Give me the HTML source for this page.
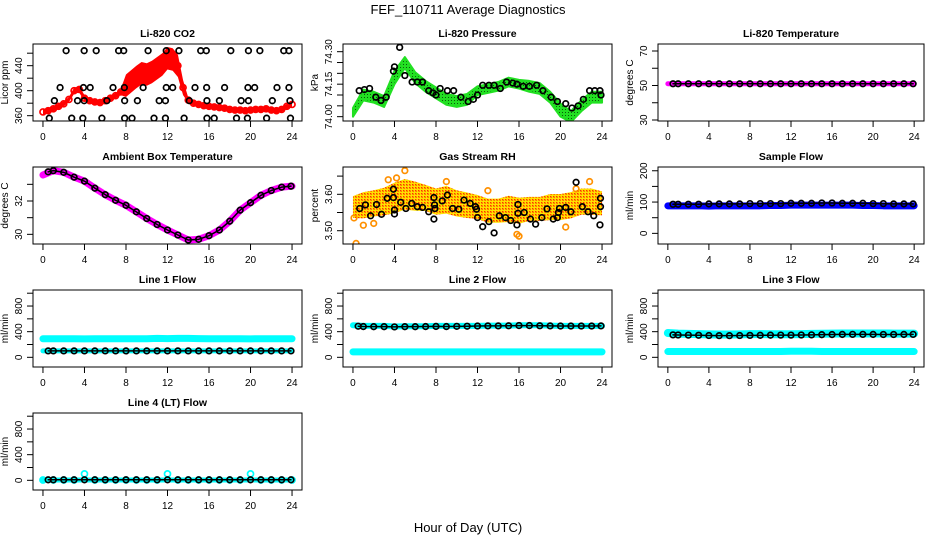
<!DOCTYPE html>
<html><head><meta charset="utf-8"><style>
html,body{margin:0;padding:0;background:#fff;}
svg{display:block;font-family:"Liberation Sans",Arial,sans-serif;}
</style></head><body>
<svg id="chart" width="936" height="540" viewBox="0 0 936 540" xmlns="http://www.w3.org/2000/svg">
<defs>
<pattern id="greendots" width="3" height="3" patternUnits="userSpaceOnUse"><rect width="3" height="3" fill="#22e022"/><rect x="1" y="1" width="1" height="1" fill="#0a5a0a"/></pattern>
<pattern id="orangedots" width="3" height="3" patternUnits="userSpaceOnUse"><rect width="3" height="3" fill="#ffe000"/><rect x="1" y="1" width="1.4" height="1.4" fill="#ff3000"/><rect x="2.2" y="2.2" width="0.8" height="0.8" fill="#ff5000"/></pattern>
</defs>
<text x="468" y="14" text-anchor="middle" font-size="13">FEF_110711  Average Diagnostics</text>
<text x="468" y="532" text-anchor="middle" font-size="13">Hour of Day (UTC)</text>
</svg>
<script>
// ---- data ----
const hourly = [0,1,2,3,4,5,6,7,8,9,10,11,12,13,14,15,16,17,18,19,20,21,22,23,24];
const blackHours = [0.5,1,2,3,4,5,6,7,8,9,10,11,12,13,14,15,16,17,18,19,20,21,22,23,23.9];
const halfHours = [0,0.5,1,1.5,2,2.5,3,3.5,4,4.5,5,5.5,6,6.5,7,7.5,8,8.5,9,9.5,10,10.5,11,11.5,12,12.5,13,13.5,14,14.5,15,15.5,16,16.5,17,17.5,18,18.5,19,19.5,20,20.5,21,21.5,22,22.5,23,23.5,24];

const co2Mid = [366,368,371,375,379,386,400,402,388,384,382,381,384,388,392,398,408,415,422,428,426,430,436,442,452,450,440,405,385,380,378,376,375,374,373,372,370,369,369,368,369,370,370,371,369,368,370,375,378];
const co2Spread = [4,4,4,4,4,4,5,5,5,4,4,4,4,4,4,5,18,18,18,18,18,18,18,18,18,18,18,12,4,4,4,4,4,4,4,4,4,4,4,4,4,4,4,4,4,4,4,4,4];
const co2BlackHours = [2.23,3.97,5.13,7.29,7.78,10.13,11.88,13.1,15.2,15.74,18.1,19.8,20.9,23.2,23.7, 1.65,3.9,4.55,6.75,7.84,9.65,11.88,12.5,14.65,15.77,17.5,19.75,20.4,22.55,23.7, 1.1,3.33,3.97,6.16,7.87,9.1,11.2,11.8,14.1,15.8,17.0,19.1,19.8,22.1,23.8, 0.61,2.77,3.84,5.68,7.87,8.58,10.7,11.8,13.6,15.8,16.5,18.65,19.7,21.55,23.85];
const co2BlackVals = [464,464,464,464,464,464,464,464,464,464,464,464,464,464,464, 405,405,405,405,405,405,405,405,405,405,405,405,405,405,405, 384,384,384,384,384,384,384,384,384,384,384,384,384,384,384, 356,356,356,356,356,356,356,356,356,356,356,356,356,356,356];

const presMid = [74.02,74.10,74.09,74.07,74.18,74.25,74.18,74.14,74.11,74.08,74.07,74.08,74.12,74.13,74.14,74.16,74.15,74.14,74.13,74.09,74.03,74.00,74.05,74.09,74.09];
const presSpread = [0.02,0.025,0.025,0.025,0.03,0.025,0.025,0.025,0.025,0.025,0.025,0.025,0.02,0.02,0.02,0.02,0.02,0.025,0.025,0.025,0.03,0.025,0.025,0.025,0.025];
const presBlackHours = [0.6,1.1,1.6,2.2,2.7,3.2,3.9,4.0,4.5,5.0,5.7,6.2,6.7,7.3,7.7,8.0,8.4,9.1,9.7,10.4,11.1,11.6,12.0,12.5,13.1,13.6,14.2,14.8,15.4,15.8,16.4,17.0,17.7,18.3,19.1,19.7,20.5,21.1,21.7,22.2,22.8,23.3,23.8,23.9];
const presBlackVals = [74.12,74.125,74.13,74.09,74.075,74.09,74.21,74.23,74.32,74.19,74.16,74.16,74.16,74.12,74.11,74.10,74.13,74.12,74.12,74.09,74.07,74.08,74.10,74.145,74.145,74.145,74.13,74.16,74.155,74.15,74.14,74.14,74.145,74.12,74.09,74.07,74.06,74.04,74.05,74.08,74.12,74.12,74.12,74.10];

const tempMagenta = [51,51,51,51,51,51,51,51,51,51,51,51,51,51,51,51,51,51,51,51,51,51,51,51,51];
const tempBlack = [51,51,51,51,51,51,51,51,51,51,51,51,51,51,51,51,51,51,51,51,51,51,51,51,51];

const ambMagenta = [33.56,33.82,33.72,33.43,33.19,32.77,32.38,32.04,31.74,31.35,30.95,30.59,30.26,29.96,29.66,29.70,29.92,30.26,30.79,31.45,31.90,32.34,32.63,32.83,32.89];
const ambBlack = [33.75,33.82,33.72,33.43,33.19,32.77,32.38,32.04,31.74,31.35,30.95,30.59,30.26,29.96,29.66,29.70,29.92,30.26,30.79,31.45,31.90,32.34,32.63,32.83,32.89];

const rhMid = [3.565,3.57,3.575,3.58,3.59,3.60,3.595,3.59,3.58,3.585,3.575,3.57,3.565,3.555,3.555,3.56,3.555,3.56,3.56,3.565,3.565,3.57,3.58,3.58,3.575];
const rhSpread = [0.03,0.036,0.036,0.038,0.042,0.042,0.04,0.036,0.036,0.038,0.036,0.035,0.033,0.033,0.033,0.036,0.036,0.033,0.033,0.036,0.036,0.036,0.036,0.036,0.033];
const rhBlackHours = [0.65,1.2,1.7,2.27,2.75,3.3,3.9,3.9,4.0,4.0,4.6,5.1,5.66,6.2,6.7,7.3,7.8,7.86,7.9,7.8,8.6,9.1,9.6,10.2,10.7,11.3,11.8,11.9,12.0,12.5,13.1,13.6,14.1,14.7,15.2,15.8,15.9,15.9,16.5,17.1,17.6,18.2,18.7,19.3,19.7,19.8,19.9,20.5,21.0,21.5,22.1,22.65,23.2,23.8,23.85,23.85];
const rhBlackVals = [3.561,3.571,3.541,3.572,3.545,3.589,3.614,3.591,3.557,3.546,3.578,3.561,3.575,3.566,3.564,3.552,3.591,3.571,3.561,3.532,3.582,3.598,3.561,3.559,3.584,3.575,3.566,3.559,3.536,3.511,3.525,3.494,3.541,3.536,3.528,3.516,3.548,3.572,3.550,3.532,3.518,3.536,3.560,3.532,3.536,3.550,3.561,3.564,3.552,3.633,3.566,3.552,3.541,3.516,3.566,3.589];
const rhOutlierHours = [0.1,0.3,1.0,2.0,5.0,4.2,9.0,13.0,15.8,20.5,21.5,22.8,16.0,3.4];
const rhOutlierVals = [3.535,3.465,3.515,3.52,3.665,3.645,3.635,3.61,3.49,3.51,3.615,3.635,3.485,3.64];

const sampleBlue = [88,88,88,88,87,88,88,88,88,88,89,89,90,90,90,90,90,90,90,89,89,88,88,88,88];
const sampleBlack = [93,93,93,93,94,94,94,94,95,95,95,95,96,96,96,97,97,96,96,96,95,95,94,94,94];

const line1Cyan = [290,290,290,290,288,290,290,290,290,290,290,295,292,295,295,292,290,290,290,290,288,290,290,290,290];
const line1Black = [100,100,100,100,100,100,100,100,100,100,100,100,100,100,100,100,100,100,100,100,100,100,100,100,100];
const line2CyanLow = [85,85,85,85,85,85,85,85,85,85,85,85,85,85,85,85,85,85,85,85,85,85,85,85,85];
const line2CyanHigh = [500,490,490,490,480,485,485,485,490,490,490,490,490,495,495,495,500,500,500,495,490,490,490,490,490];
const line2Black = [485,480,478,478,475,478,478,480,482,480,483,485,488,490,490,492,495,495,492,490,488,488,488,488,490];
const line3CyanLow = [90,90,90,90,90,90,90,90,90,90,90,90,95,95,95,90,90,90,90,90,90,90,90,90,90];
const line3CyanHigh = [380,370,365,362,358,355,355,358,362,362,360,360,360,362,365,368,370,372,372,372,372,372,370,370,370];
const line3Black = [350,348,346,344,340,338,338,340,342,343,345,346,346,348,350,353,355,357,358,358,357,356,356,357,358];
const line4Cyan = [5,5,5,5,100,5,5,5,5,5,5,5,100,5,5,5,5,5,5,5,100,5,5,5,5];
const line4Black = [8,8,8,8,8,8,8,8,8,8,8,8,8,8,8,8,8,8,8,8,8,8,8,8,8];

const xTicks = [0,4,8,12,16,20,24];
const co2Ticks = [360,380,400,420,440,460];
const co2Labels = ["360","","400","","440",""];
const presTicks = [74.00,74.05,74.10,74.15,74.20,74.25,74.30];
const presLabels = ["74.00","","","74.15","","","74.30"];
const tempTicks = [30,40,50,60,70];
const tempLabels = ["30","","50","","70"];
const ambTicks = [30,31,32,33];
const ambLabels = ["30","","32",""];
const rhTicks = [3.50,3.55,3.60,3.65];
const rhLabels = ["3.50","","3.60",""];
const sampTicks = [0,50,100,150,200];
const sampLabels = ["0","","100","","200"];
const flowTicks = [0,200,400,600,800,1000];
const flowLabels = ["0","","400","","800",""];

// ---- drawing ----
const NS = "http://www.w3.org/2000/svg";
const svg = document.getElementById('chart');
const colL = [33,343,658], colR = [302,612,924];
const rowT = [44,167,290,413];
const BOXH = 77;
const XMIN = -0.96, XMAX = 24.96;

function el(tag, attrs, parent){
  const e = document.createElementNS(NS, tag);
  for (const k in attrs) e.setAttribute(k, attrs[k]);
  (parent||svg).appendChild(e);
  return e;
}

function makePanel(col,row,ymin,ymax,title,ylab,ticks,labels,name){
  const L=colL[col], R=colR[col], T=rowT[row], B=T+BOXH;
  const g = el('g',{});
  
  
  const p = {g,L,R,T,B,
    x:h=>L+(h-XMIN)/(XMAX-XMIN)*(R-L),
    y:v=>B-(v-ymin)/(ymax-ymin)*(B-T)};
  const clip = el('clipPath',{id:'clip-'+name},g);
  el('rect',{x:L,y:T,width:R-L,height:B-T},clip);
  p.plot = el('g',{'clip-path':'url(#clip-'+name+')'},g);
  
  
  const box = el('rect',{x:L,y:T,width:R-L,height:B-T,fill:'none',stroke:'#000','stroke-width':1},g);
  
  
  const t = el('text',{x:(L+R)/2,y:T-7,'text-anchor':'middle','font-size':10.5,'font-weight':'bold'},g);
  t.textContent = title;
  
  
  const xa = el('g',{},g);
  
  
  el('line',{x1:p.x(0),x2:p.x(24),y1:B,y2:B,stroke:'#000'},xa);
  xTicks.forEach(v=>{
    el('line',{x1:p.x(v),x2:p.x(v),y1:B,y2:B+6,stroke:'#000'},xa);
    const tl = el('text',{x:p.x(v),y:B+19,'text-anchor':'middle','font-size':10},xa);
    tl.textContent = v;
    
    
  });
  const ya = el('g',{},g);
  
  
  el('line',{x1:L,x2:L,y1:p.y(ticks[0]),y2:p.y(ticks[ticks.length-1]),stroke:'#000'},ya);
  ticks.forEach((v,i)=>{
    el('line',{x1:L-6,x2:L,y1:p.y(v),y2:p.y(v),stroke:'#000'},ya);
    if(labels[i]){
      const yy=p.y(v), xx=L-11;
      const tl = el('text',{x:xx,y:yy,'text-anchor':'middle','font-size':10,transform:`rotate(-90 ${xx} ${yy})`},ya);
      tl.textContent = labels[i];
      
      
    }
  });
  const yx=L-25, yy=(T+B)/2;
  const yl = el('text',{x:yx,y:yy,'text-anchor':'middle','font-size':10,transform:`rotate(-90 ${yx} ${yy})`},g);
  yl.textContent = ylab;
  
  
  return p;
}

function band(p,hs,mid,spread,fill,name){
  const top = hs.map((h,i)=>p.x(h)+','+p.y(mid[i]+spread[i]));
  const bot = hs.map((h,i)=>p.x(h)+','+p.y(mid[i]-spread[i])).reverse();
  const poly = el('polygon',{points:top.concat(bot).join(' '),fill:fill,stroke:fill==='url(#greendots)'?'#22e022':'none','stroke-width':2,'stroke-linejoin':'round'},p.plot);
  
  
}
function thick(p,hs,vals,color,w,name){
  const pl = el('polyline',{points:hs.map((h,i)=>p.x(h)+','+p.y(vals[i])).join(' '),fill:'none',stroke:color,'stroke-width':w,'stroke-linecap':'round','stroke-linejoin':'round'},p.plot);
  
  
}
function pts(p,hs,vals,color,name,r){
  hs.forEach((h,i)=>{
    const c = el('circle',{cx:p.x(h),cy:p.y(vals[i]),r:r||2.8,fill:'none',stroke:color,'stroke-width':1.7},p.plot);
    
    
  });
}
function chain(p,hs,vals,name){
  thick(p,hs,vals,'#000',1.5,name+'-trace');
  pts(p,hs,vals,'#000',name);
}

let p = makePanel(0,0,351.5,474.7,'Li-820 CO2','Licor ppm',co2Ticks,co2Labels,'co2');
band(p,halfHours,co2Mid,co2Spread,'#ff0000','co2-red-band');
pts(p,halfHours,co2Mid,'#ff0000','co2-red-point',3);
pts(p,co2BlackHours,co2BlackVals,'#000','co2-black-point');

p = makePanel(1,0,73.980,74.3355,'Li-820 Pressure','kPa',presTicks,presLabels,'pressure');
band(p,hourly,presMid,presSpread,'url(#greendots)','pressure-green-band');
pts(p,presBlackHours,presBlackVals,'#000','pressure-black-point');

p = makePanel(2,0,29.42,74.06,'Li-820 Temperature','degrees C',tempTicks,tempLabels,'li820-temp');
thick(p,hourly,tempMagenta,'#ff00ff',5,'li820-temp-magenta');
chain(p,blackHours,tempBlack,'li820-temp-black-point');

p = makePanel(0,1,29.42,34.04,'Ambient Box Temperature','degrees C',ambTicks,ambLabels,'ambient-temp');
thick(p,hourly,ambMagenta,'#ff00ff',7,'ambient-magenta');
chain(p,blackHours,ambBlack,'ambient-black-point');

p = makePanel(1,1,3.4635,3.675,'Gas Stream RH','percent',rhTicks,rhLabels,'rh');
band(p,hourly,rhMid,rhSpread,'url(#orangedots)','rh-orange-band');
pts(p,rhOutlierHours,rhOutlierVals,'#ff9000','rh-orange-point');
pts(p,rhBlackHours,rhBlackVals,'#000','rh-black-point');

p = makePanel(2,1,-34,212,'Sample Flow','ml/min',sampTicks,sampLabels,'sample-flow');
thick(p,hourly,sampleBlue,'#0000ff',7,'sample-blue');
chain(p,blackHours,sampleBlack,'sample-black-point');

p = makePanel(0,2,-151,1050,'Line 1 Flow','ml/min',flowTicks,flowLabels,'line1');
thick(p,hourly,line1Cyan,'#00ffff',7,'line1-cyan');
thick(p,hourly,line1Black,'#00ffff',5,'line1-cyan-low');
chain(p,blackHours,line1Black,'line1-black-point');

p = makePanel(1,2,-151,1050,'Line 2 Flow','ml/min',flowTicks,flowLabels,'line2');
thick(p,hourly,line2CyanLow,'#00ffff',7,'line2-cyan-low');
thick(p,hourly,line2CyanHigh,'#00ffff',6,'line2-cyan-high');
chain(p,blackHours,line2Black,'line2-black-point');

p = makePanel(2,2,-151,1050,'Line 3 Flow','ml/min',flowTicks,flowLabels,'line3');
thick(p,hourly,line3CyanLow,'#00ffff',7,'line3-cyan-low');
thick(p,hourly,line3CyanHigh,'#00ffff',8,'line3-cyan-high');
chain(p,blackHours,line3Black,'line3-black-point');

p = makePanel(0,3,-151,1050,'Line 4 (LT) Flow','ml/min',flowTicks,flowLabels,'line4');
thick(p,hourly,line4Cyan.map(()=>5),'#00ffff',5,'line4-cyan-base');
pts(p,hourly,line4Cyan,'#00ffff','line4-cyan-point',3);
chain(p,blackHours,line4Black,'line4-black-point');
</script>
</body></html>
